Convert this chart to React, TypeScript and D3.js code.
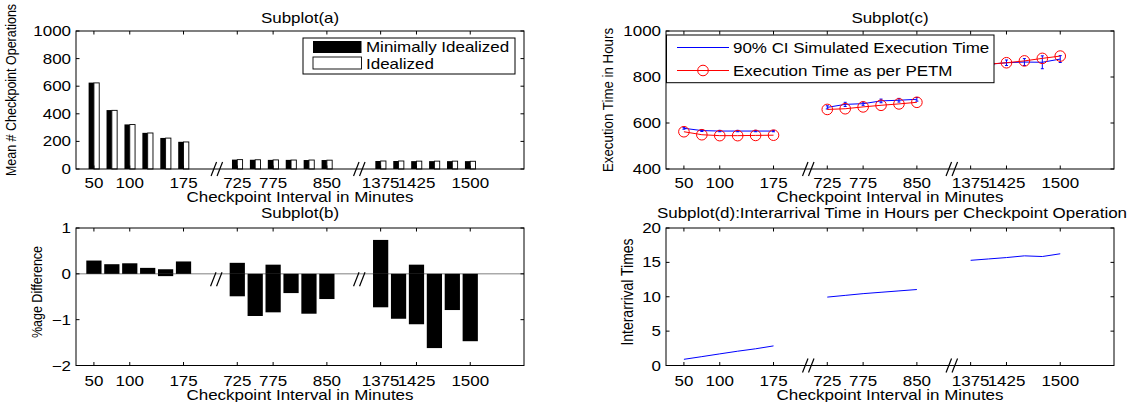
import React from "react";
import * as d3 from "d3";

// ---------------- data ----------------
const intervals = [50, 75, 100, 125, 150, 175, 725, 750, 775, 800, 825, 850, 1375, 1400, 1425, 1450, 1475, 1500];
const xTickValues = [50, 100, 175, 725, 775, 850, 1375, 1425, 1500];

// Subplot (a): mean # checkpoint operations
const opsMinimallyIdealized = [626, 427, 323, 262, 225, 197, 68, 67, 66, 66, 65, 65, 58, 58, 57, 57, 57, 57];
const opsIdealized = [624, 425, 322, 261, 224, 196, 68, 67, 66, 65, 65, 64, 58, 58, 57, 57, 57, 56];
const yTicksA = [0, 200, 400, 600, 800, 1000];

// Subplot (b): %age difference (two series drawn in black, overlapping)
const pctDiffSeries1 = [0.29, 0.21, 0.23, 0.13, 0.1, 0.27, 0.24, 0, 0.2, 0, 0, 0, 0.74, 0, 0.2, 0, 0, 0];
const pctDiffSeries2 = [0, 0, 0, 0, -0.05, 0, -0.49, -0.92, -0.84, -0.42, -0.87, -0.55, -0.73, -0.98, -1.1, -1.62, -0.79, -1.47];
const yTicksB = [-2, -1, 0, 1];

// Subplot (c): execution time in hours
const execSimulated = [577, 567, 565, 565, 565, 565, 668, 681, 684, 696, 699, 703, 848, 855, 862, 865, 864, 878];
const execCIHalf = [4, 4, 3, 3, 3, 3, 7, 9, 7, 8, 8, 8, 10, 10, 12, 15, 28, 15];
const execPETM = [562, 549, 545, 545, 546, 547, 659, 662, 670, 677, 683, 690, 850, 856, 862, 870, 881, 891];
const yTicksC = [400, 600, 800, 1000];

// Subplot (d): interarrival times
const interarrival = [0.9, 1.29, 1.69, 2.08, 2.43, 2.85, 9.95, 10.2, 10.45, 10.65, 10.85, 11.05, 15.3, 15.5, 15.7, 15.95, 15.85, 16.25];
const yTicksD = [0, 5, 10, 15, 20];

// ---------------- layout ----------------
const W = 1130;
const H = 402;
const SX = 1.17;
const FONT = "'Liberation Sans', Arial, Helvetica, sans-serif";
const FS = 14.5;

const LEFT = { x0: 76, x1: 524 };
const RIGHT = { x0: 666, x1: 1114 };
const TOP = { y0: 31, y1: 169 };
const BOT = { y0: 228, y1: 365.5 };

const slotOf = (i: number) => Math.floor(i / 6) * 8 + (i % 6) + 1;
const groups = [0, 1, 2].map((g) => d3.range(g * 6, g * 6 + 6));

function Txt({ x, y, anchor = "middle", size = FS, rot = false, children }: any) {
  const t = rot
    ? `translate(${x},${y}) rotate(-90) scale(1,${SX})`
    : `translate(${x},${y}) scale(${SX},1)`;
  return (
    <text transform={t} textAnchor={anchor} fontSize={size} fontFamily={FONT} fill="#000">
      {children}
    </text>
  );
}

function Frame({ xs, ys, yTicks, yFmt, tickBaseline }: any) {
  const [x0, x1] = xs.range();
  const [y1, y0] = ys.range();
  const tl = 3.5;
  const xt = xTickValues.map((v) => xs(slotOf(intervals.indexOf(v))));
  return (
    <g>
      <rect x={x0} y={y0} width={x1 - x0} height={y1 - y0} fill="none" stroke="#000" strokeWidth={1} />
      {xt.map((x, i) => (
        <g key={"xt" + i}>
          <line x1={x} x2={x} y1={y1} y2={y1 - tl} stroke="#000" />
          <line x1={x} x2={x} y1={y0} y2={y0 + tl} stroke="#000" />
          <Txt x={x} y={tickBaseline}>{String(xTickValues[i])}</Txt>
        </g>
      ))}
      {yTicks.map((v: number, i: number) => (
        <g key={"yt" + i}>
          <line x1={x0} x2={x0 + tl} y1={ys(v)} y2={ys(v)} stroke="#000" />
          <line x1={x1} x2={x1 - tl} y1={ys(v)} y2={ys(v)} stroke="#000" />
          <Txt x={x0 - 5} y={ys(v) + 5} anchor="end">{yFmt(v)}</Txt>
        </g>
      ))}
    </g>
  );
}

function BreakMarks({ xs, cy, slots }: any) {
  return (
    <g>
      {slots.map((s: number, k: number) => {
        const cx = xs(s);
        return (
          <g key={k}>
            {[0, 1].map((i) => {
              const bx = cx - 6.5 + i * 6;
              return <line key={i} x1={bx} y1={cy + 7} x2={bx + 5.5} y2={cy - 7} stroke="#000" strokeWidth={1.2} />;
            })}
          </g>
        );
      })}
    </g>
  );
}

export default function App() {
  const xsL = d3.scaleLinear().domain([0, 25]).range([LEFT.x0, LEFT.x1]);
  const xsR = d3.scaleLinear().domain([0, 25]).range([RIGHT.x0, RIGHT.x1]);
  const ysA = d3.scaleLinear().domain([0, 1000]).range([TOP.y1, TOP.y0]);
  const ysB = d3.scaleLinear().domain([-2, 1]).range([BOT.y1, BOT.y0]);
  const ysC = d3.scaleLinear().domain([400, 1000]).range([TOP.y1, TOP.y0]);
  const ysD = d3.scaleLinear().domain([0, 20]).range([BOT.y1, BOT.y0]);

  const bwA = 5.3;
  const bwB = 0.85 * (xsL(1) - xsL(0));

  const lineC = (vals: number[]) =>
    d3.line<number>().x((i) => xsR(slotOf(i))).y((i) => ysC(vals[i]));
  const lineD = d3.line<number>().x((i) => xsR(slotOf(i))).y((i) => ysD(interarrival[i]));

  const midL = (LEFT.x0 + LEFT.x1) / 2;
  const midR = (RIGHT.x0 + RIGHT.x1) / 2;

  return (
    <svg width={W} height={H} style={{ position: "absolute", left: 0, top: 0, background: "#fff" }}>
      <rect x={0} y={0} width={W} height={H} fill="#fff" />

      {/* ---------- Subplot (a) ---------- */}
      <g>
        {intervals.map((_, i) => {
          const x = xsL(slotOf(i));
          return (
            <g key={"a" + i}>
              <rect x={x - bwA} y={ysA(opsMinimallyIdealized[i])} width={bwA} height={ysA(0) - ysA(opsMinimallyIdealized[i])} fill="#000" />
              <rect x={x} y={ysA(opsIdealized[i])} width={bwA} height={ysA(0) - ysA(opsIdealized[i])} fill="#fff" stroke="#000" strokeWidth={0.9} />
            </g>
          );
        })}
        <Frame xs={xsL} ys={ysA} yTicks={yTicksA} yFmt={(v: number) => String(v)} tickBaseline={187.5} />
        <BreakMarks xs={xsL} cy={TOP.y1} slots={[7.9, 15.85]} />
        <Txt x={midL} y={23}>Subplot(a)</Txt>
        <Txt x={midL} y={202}>Checkpoint Interval in Minutes</Txt>
        <Txt x={16} y={90} rot size={12.5}>Mean # Checkpoint Operations</Txt>
        <rect x={303} y={38} width={212} height={36} fill="#fff" stroke="#000" strokeWidth={1} />
        <rect x={313} y={41} width={48.5} height={12} fill="#000" />
        <rect x={313} y={57} width={48.5} height={12} fill="#fff" stroke="#000" strokeWidth={0.9} />
        <Txt x={366} y={52.3} anchor="start">Minimally Idealized</Txt>
        <Txt x={366} y={68.5} anchor="start">Idealized</Txt>
      </g>

      {/* ---------- Subplot (b) ---------- */}
      <g>
        <line x1={LEFT.x0} x2={LEFT.x1} y1={ysB(0)} y2={ysB(0)} stroke="#808080" strokeWidth={1} />
        {intervals.map((_, i) => {
          const x = xsL(slotOf(i));
          return (
            <g key={"b" + i}>
              {[pctDiffSeries1[i], pctDiffSeries2[i]].map((v, k) =>
                v === 0 ? null : (
                  <rect key={k} x={x - bwB / 2} y={Math.min(ysB(v), ysB(0))} width={bwB} height={Math.abs(ysB(v) - ysB(0))} fill="#000" />
                )
              )}
            </g>
          );
        })}
        <Frame xs={xsL} ys={ysB} yTicks={yTicksB} yFmt={(v: number) => (v < 0 ? "\u2212" + Math.abs(v) : String(v))} tickBaseline={386} />
        <BreakMarks xs={xsL} cy={ysB(0) + 5.5} slots={[7.87, 15.85]} />
        <Txt x={midL} y={218}>Subplot(b)</Txt>
        <Txt x={midL} y={400}>Checkpoint Interval in Minutes</Txt>
        <Txt x={42} y={292} rot size={12.5}>%age Difference</Txt>
      </g>

      {/* ---------- Subplot (c) ---------- */}
      <g>
        {groups.map((g, k) => (
          <path key={"cs" + k} d={lineC(execSimulated)(g) || ""} fill="none" stroke="#0000ff" strokeWidth={1} />
        ))}
        {intervals.map((_, i) => {
          const x = xsR(slotOf(i));
          const yt = ysC(execSimulated[i] + execCIHalf[i]);
          const yb = ysC(execSimulated[i] - execCIHalf[i]);
          return (
            <g key={"ce" + i} stroke="#0000ff" strokeWidth={1}>
              <line x1={x} x2={x} y1={yt} y2={yb} />
              <line x1={x - 1.5} x2={x + 1.5} y1={yt} y2={yt} />
              <line x1={x - 1.5} x2={x + 1.5} y1={yb} y2={yb} />
            </g>
          );
        })}
        {groups.map((g, k) => (
          <path key={"cp" + k} d={lineC(execPETM)(g) || ""} fill="none" stroke="#ff0000" strokeWidth={1} />
        ))}
        {intervals.map((_, i) => (
          <circle key={"cc" + i} cx={xsR(slotOf(i))} cy={ysC(execPETM[i])} r={5.3} fill="none" stroke="#ff0000" strokeWidth={1} />
        ))}
        <Frame xs={xsR} ys={ysC} yTicks={yTicksC} yFmt={(v: number) => String(v)} tickBaseline={188} />
        <BreakMarks xs={xsR} cy={TOP.y1} slots={[7.98, 15.99]} />
        <Txt x={midR} y={23}>Subplot(c)</Txt>
        <Txt x={midR} y={202}>Checkpoint Interval in Minutes</Txt>
        <Txt x={613} y={100} rot size={13.3}>Execution Time in Hours</Txt>
        <rect x={666.5} y={35} width={327.5} height={47.7} fill="#fff" stroke="#000" strokeWidth={1} />
        <line x1={677} x2={729} y1={47.5} y2={47.5} stroke="#0000ff" strokeWidth={1} />
        <line x1={677} x2={729} y1={70.5} y2={70.5} stroke="#ff0000" strokeWidth={1} />
        <circle cx={703} cy={70.5} r={5.3} fill="none" stroke="#ff0000" strokeWidth={1} />
        <Txt x={733} y={53} anchor="start">90% CI Simulated Execution Time</Txt>
        <Txt x={733} y={76} anchor="start">Execution Time as per PETM</Txt>
      </g>

      {/* ---------- Subplot (d) ---------- */}
      <g>
        {groups.map((g, k) => (
          <path key={"d" + k} d={lineD(g) || ""} fill="none" stroke="#0000ff" strokeWidth={1} />
        ))}
        <Frame xs={xsR} ys={ysD} yTicks={yTicksD} yFmt={(v: number) => String(v)} tickBaseline={386} />
        <BreakMarks xs={xsR} cy={BOT.y1} slots={[7.98, 15.99]} />
        <Txt x={892} y={218}>Subplot(d):Interarrival Time in Hours per Checkpoint Operation</Txt>
        <Txt x={midR} y={400}>Checkpoint Interval in Minutes</Txt>
        <Txt x={632.5} y={292} rot size={14}>Interarrival Times</Txt>
      </g>
    </svg>
  );
}
